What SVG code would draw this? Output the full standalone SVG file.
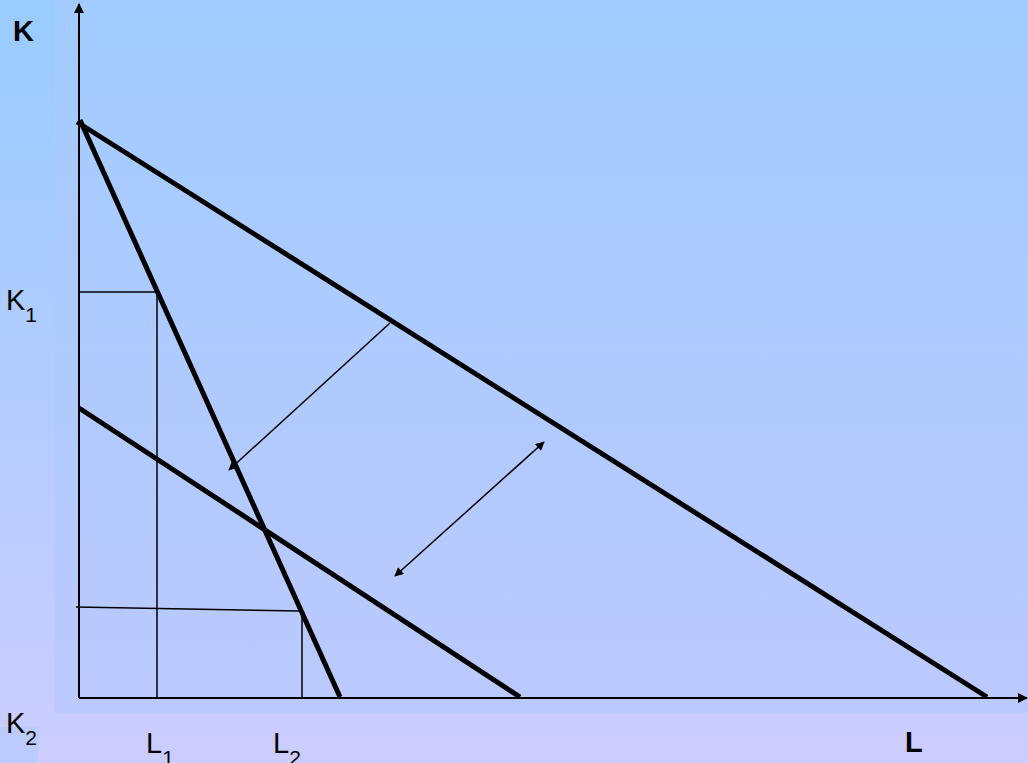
<svg xmlns="http://www.w3.org/2000/svg" width="1028" height="763" viewBox="0 0 1028 763">
<defs>
<linearGradient id="bgOuter" x1="0" y1="0" x2="0" y2="1">
<stop offset="0" stop-color="#99ccff"/>
<stop offset="1" stop-color="#ccccff"/>
</linearGradient>
<linearGradient id="bgInner" x1="0" y1="0" x2="0" y2="1">
<stop offset="0" stop-color="#a2ccff"/>
<stop offset="1" stop-color="#bcc9fe"/>
</linearGradient>
<marker id="ah" viewBox="0 0 10 10" refX="9" refY="5" markerWidth="5" markerHeight="5" orient="auto-start-reverse" markerUnits="strokeWidth">
<path d="M0,0 L10,5 L0,10 z" fill="#000"/>
</marker>
<marker id="ahs" viewBox="0 0 10 10" refX="9" refY="5" markerWidth="7" markerHeight="6" orient="auto-start-reverse" markerUnits="strokeWidth">
<path d="M0,0 L10,5 L0,10 z" fill="#000"/>
</marker>
</defs>
<style>
.thick{stroke:#000;stroke-width:5;fill:none}
.thin{stroke:#000;stroke-width:1.5;fill:none}
.axis{stroke:#000;stroke-width:2;fill:none}
.lbl{font-family:"Liberation Sans",Arial,sans-serif;font-size:29px;fill:#000}
.sub{font-family:"Liberation Sans",Arial,sans-serif;font-size:21px;fill:#000}
.bold{font-weight:bold}
</style>
<rect x="0" y="0" width="1028" height="763" fill="url(#bgOuter)"/>
<rect x="54" y="0" width="974" height="713" fill="url(#bgInner)"/>
<rect x="0" y="727" width="38" height="36" fill="#bccbfe"/>
<g id="connectors">
<line class="axis" x1="79" y1="698" x2="79" y2="4" marker-end="url(#ah)"/>
<line class="axis" x1="79" y1="698" x2="1027" y2="698" marker-end="url(#ah)"/>
<line class="thin" x1="79" y1="292" x2="157" y2="292"/>
<line class="thin" x1="157" y1="292" x2="157" y2="698"/>
<line class="thin" x1="76" y1="607" x2="299" y2="611"/>
<line class="thin" x1="302" y1="611" x2="302" y2="698"/>
<line class="thick" x1="77" y1="122" x2="987" y2="697"/>
<line class="thick" x1="80" y1="120" x2="340" y2="697"/>
<line class="thick" x1="79" y1="408" x2="520" y2="697"/>
<line class="thin" x1="390" y1="323" x2="229" y2="470" marker-end="url(#ahs)"/>
<line class="thin" x1="395" y1="576" x2="544" y2="442" marker-start="url(#ahs)" marker-end="url(#ahs)"/>
</g>
<g id="label-K"><text class="lbl bold" x="13" y="41">K</text></g>
<g id="label-K1"><text class="lbl" x="6" y="310">K<tspan class="sub" dy="12">1</tspan></text></g>
<g id="label-K2"><text class="lbl" x="6" y="733">K<tspan class="sub" dy="12">2</tspan></text></g>
<g id="label-L1"><text class="lbl" x="146" y="753">L<tspan class="sub" dy="12">1</tspan></text></g>
<g id="label-L2"><text class="lbl" x="273" y="753">L<tspan class="sub" dy="12">2</tspan></text></g>
<g id="label-L"><text class="lbl bold" x="905" y="752">L</text></g>
</svg>
